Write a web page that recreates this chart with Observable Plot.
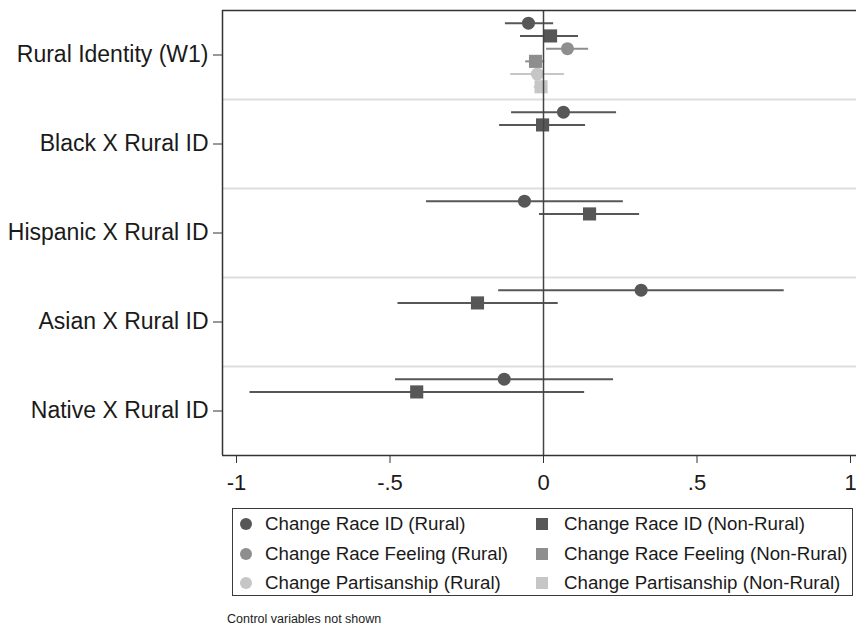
<!DOCTYPE html>
<html>
<head>
<meta charset="utf-8">
<script src="https://cdn.jsdelivr.net/npm/d3@7"></script>
<script src="https://cdn.jsdelivr.net/npm/@observablehq/plot@0.6"></script>
<style>
  body { margin: 0; background: #fff; font-family: "Liberation Sans", Arial, sans-serif; }
  #wrap { position: relative; width: 856px; height: 628px; overflow: hidden; background: #fff; }
  #wrap svg.plot { position: absolute; left: 0; top: 0; }
  .legend { position: absolute; left: 232px; top: 508px; width: 621px; height: 88px; border: 1.5px solid #3a3a3a; box-sizing: border-box; }
  .legend .item { position: absolute; height: 26px; display: flex; align-items: center; font-size: 18.7px; color: #1a1a1a; white-space: nowrap; }
  .legend .item svg { position: absolute; }
  .caption { position: absolute; left: 227px; top: 612px; font-size: 12.5px; color: #222; white-space: nowrap; }
</style>
</head>
<body>
<div id="wrap"></div>
<script>
// ---- data ----
const categories = ["Rural Identity (W1)", "Black X Rural ID", "Hispanic X Rural ID", "Asian X Rural ID", "Native X Rural ID"];
const seriesNames = [
  "Change Race ID (Rural)", "Change Race ID (Non-Rural)",
  "Change Race Feeling (Rural)", "Change Race Feeling (Non-Rural)",
  "Change Partisanship (Rural)", "Change Partisanship (Non-Rural)"
];
const seriesShapes = ["circle", "square", "circle", "square", "circle", "square"];
const seriesColors = ["#575757", "#575757", "#8e8e8e", "#8e8e8e", "#c6c6c6", "#c6c6c6"];

// estimates and 95% CI bounds, one entry per category (only the first category for the last four series)
const estRaceIdRural    = [-0.049, 0.065, -0.062, 0.318, -0.128];
const loRaceIdRural     = [-0.124, -0.104, -0.381, -0.146, -0.482];
const hiRaceIdRural     = [0.033, 0.238, 0.260, 0.784, 0.228];
const estRaceIdNonRural = [0.023, -0.003, 0.150, -0.215, -0.413];
const loRaceIdNonRural  = [-0.075, -0.143, -0.013, -0.474, -0.956];
const hiRaceIdNonRural  = [0.114, 0.137, 0.313, 0.048, 0.134];
const estFeelingRural    = [0.078];
const loFeelingRural     = [0.010];
const hiFeelingRural     = [0.147];
const estFeelingNonRural = [-0.026];
const loFeelingNonRural  = [-0.058];
const hiFeelingNonRural  = [0.004];
const estPartisanRural    = [-0.020];
const loPartisanRural     = [-0.107];
const hiPartisanRural     = [0.068];
const estPartisanNonRural = [-0.008];
const loPartisanNonRural  = [-0.030];
const hiPartisanNonRural  = [0.012];

const xTicks = [-1, -0.5, 0, 0.5, 1];
const xDomain = [-1.0456, 1.0195];
const caption = "Control variables not shown";

// ---- build table ----
const seriesData = [
  [estRaceIdRural, loRaceIdRural, hiRaceIdRural],
  [estRaceIdNonRural, loRaceIdNonRural, hiRaceIdNonRural],
  [estFeelingRural, loFeelingRural, hiFeelingRural],
  [estFeelingNonRural, loFeelingNonRural, hiFeelingNonRural],
  [estPartisanRural, loPartisanRural, hiPartisanRural],
  [estPartisanNonRural, loPartisanNonRural, hiPartisanNonRural]
];
const nSlots = seriesNames.length + 1;
const rows = [];
seriesData.forEach(([est, lo, hi], si) => {
  est.forEach((e, ci) => {
    rows.push({
      category: categories[ci],
      series: seriesNames[si],
      shape: seriesShapes[si],
      est: e, lo: lo[ci], hi: hi[ci],
      pos: ci + (si + 1) / nSlots
    });
  });
});
const separators = d3.range(1, categories.length);
const catTicks = categories.map((c, i) => i + 0.5);

const chart = Plot.plot({
  width: 856,
  height: 505,
  marginLeft: 222,
  marginRight: 0,
  marginTop: 10,
  marginBottom: 50,
  style: { fontFamily: "'Liberation Sans', Arial, sans-serif", color: "#1a1a1a", background: "white", overflow: "visible" },
  x: { domain: xDomain, axis: null, label: null },
  y: { domain: [0, categories.length], reverse: true, axis: null, label: null },
  color: { domain: seriesNames, range: seriesColors },
  marks: [
    Plot.ruleY(separators, { stroke: "#dedede", strokeWidth: 2 }),
    Plot.ruleY(rows, { y: "pos", x1: "lo", x2: "hi", stroke: "series", strokeWidth: 2 }),
    Plot.dot(rows.filter(d => d.shape === "circle"), { x: "est", y: "pos", fill: "series", r: 6.5, symbol: "circle" }),
    Plot.dot(rows.filter(d => d.shape === "square"), { x: "est", y: "pos", fill: "series", r: 7.4, symbol: "square" }),
    Plot.ruleX([0], { stroke: "#444", strokeWidth: 1.5 }),
    Plot.ruleY([0, categories.length], { stroke: "#333", strokeWidth: 1.5 }),
    Plot.ruleX([xDomain[0]], { stroke: "#333", strokeWidth: 1.5 }),
    Plot.axisX(xTicks, {
      anchor: "bottom", label: null, tickSize: 8, tickPadding: 11, fontSize: 22, stroke: "#333",
      tickFormat: d => d === 0 ? "0" : String(d).replace("0.", ".")
    }),
    Plot.axisY(catTicks, {
      anchor: "left", label: null, tickSize: 9, tickPadding: 5, fontSize: 23, stroke: "#333",
      tickFormat: d => categories[Math.floor(d)]
    })
  ]
});

const wrap = document.getElementById("wrap");
wrap.appendChild(chart);

// ---- legend (HTML below the SVG) ----
const legend = document.createElement("div");
legend.className = "legend";
const colMarkerX = [13, 309];
const colTextX = [32, 331];
const rowCenterY = [15, 45, 74];
seriesNames.forEach((name, i) => {
  const col = seriesShapes[i] === "circle" ? 0 : 1;
  const row = Math.floor(i / 2);
  const item = document.createElement("div");
  item.className = "item";
  item.style.left = colTextX[col] + "px";
  item.style.top = (rowCenterY[row] - 13) + "px";
  item.textContent = name;
  legend.appendChild(item);
  const ns = "http://www.w3.org/2000/svg";
  const svg = document.createElementNS(ns, "svg");
  svg.setAttribute("width", 16);
  svg.setAttribute("height", 16);
  svg.style.position = "absolute";
  svg.style.left = (colMarkerX[col] - 8) + "px";
  svg.style.top = (rowCenterY[row] - 8) + "px";
  let shape;
  if (seriesShapes[i] === "circle") {
    shape = document.createElementNS(ns, "circle");
    shape.setAttribute("cx", 8); shape.setAttribute("cy", 8); shape.setAttribute("r", 6);
  } else {
    shape = document.createElementNS(ns, "rect");
    shape.setAttribute("x", 2); shape.setAttribute("y", 2); shape.setAttribute("width", 12); shape.setAttribute("height", 12);
  }
  shape.setAttribute("fill", seriesColors[i]);
  svg.appendChild(shape);
  legend.appendChild(svg);
});
wrap.appendChild(legend);

const cap = document.createElement("div");
cap.className = "caption";
cap.textContent = caption;
wrap.appendChild(cap);
</script>
</body>
</html>
